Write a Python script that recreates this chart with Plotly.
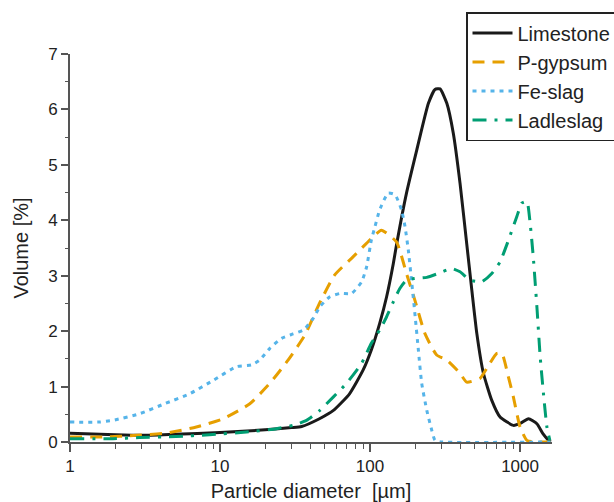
import plotly.graph_objects as go

# Particle size distributions (diameter in µm, volume in %)
limestone_d = [1, 2, 3, 5, 10, 20, 30, 35, 46, 57, 73, 90, 102, 116, 129, 143, 150, 175, 205,
               245, 271, 293, 325, 359, 398, 441, 477, 515, 570, 648, 736, 903, 1010, 1138,
               1295, 1420, 1549, 1600]
limestone_v = [0.16, 0.13, 0.12, 0.14, 0.17, 0.22, 0.26, 0.28, 0.42, 0.57, 0.87, 1.30, 1.66,
               2.14, 2.62, 3.22, 3.55, 4.49, 5.27, 6.11, 6.36, 6.37, 6.11, 5.57, 4.67, 3.58,
               2.74, 1.96, 1.24, 0.75, 0.45, 0.30, 0.34, 0.42, 0.33, 0.15, 0.03, 0.0]

pgypsum_d = [1, 1.66, 2.77, 4.4, 6.95, 10.5, 15.8, 21.5, 28.5, 36.8, 46, 58, 77, 102, 119,
             150, 175, 199, 232, 278, 325, 398, 441, 542, 600, 700, 756, 837, 903, 1000,
             1111, 1300, 1600]
pgypsum_v = [0.09, 0.09, 0.12, 0.16, 0.27, 0.42, 0.69, 1.06, 1.48, 1.93, 2.50, 3.01, 3.34,
             3.67, 3.82, 3.61, 3.04, 2.56, 1.96, 1.57, 1.48, 1.24, 1.08, 1.15, 1.33, 1.60,
             1.60, 1.17, 0.81, 0.27, 0.03, 0.0, 0.0]

feslag_d = [1, 1.57, 1.93, 2.91, 4.27, 6.28, 8.98, 12.9, 16.2, 18.4, 21.5, 25.7, 30.7, 36,
            41.8, 46.3, 54, 63, 75.4, 87.9, 94.9, 102, 108, 116, 132, 147, 162, 171, 180,
            190, 200, 210, 221, 239, 258, 271, 300, 1600]
feslag_v = [0.36, 0.36, 0.39, 0.51, 0.69, 0.87, 1.11, 1.36, 1.39, 1.48, 1.69, 1.87, 1.95,
            2.02, 2.23, 2.44, 2.62, 2.68, 2.68, 2.89, 3.16, 3.64, 3.89, 4.19, 4.49, 4.46,
            4.19, 3.89, 3.46, 2.86, 2.26, 1.66, 1.06, 0.57, 0.21, 0.03, 0.0, 0.0]

ladleslag_d = [1, 1.93, 2.9, 5.1, 8.5, 15, 23.8, 30.7, 37.7, 46.3, 56.8, 69.8, 87.9, 102,
               116, 129, 143, 158, 175, 199, 239, 285, 351, 398, 464, 556, 648, 736, 837,
               952, 1028, 1111, 1167, 1225, 1295, 1362, 1433, 1510, 1580]
ladleslag_v = [0.06, 0.06, 0.08, 0.10, 0.13, 0.18, 0.24, 0.30, 0.39, 0.57, 0.81, 1.06, 1.42,
               1.78, 2.02, 2.26, 2.53, 2.77, 2.92, 2.95, 2.97, 3.04, 3.13, 3.07, 2.92, 2.89,
               3.04, 3.25, 3.64, 4.07, 4.31, 4.34, 3.95, 3.34, 2.44, 1.54, 0.87, 0.27, 0.03]

series = [
    ("Limestone", limestone_d, limestone_v, "#1a1a1a", "solid"),
    ("P-gypsum", pgypsum_d, pgypsum_v, "#E69F00", "12px,8px"),
    ("Fe-slag", feslag_d, feslag_v, "#56B4E9", "4px,5px"),
    ("Ladleslag", ladleslag_d, ladleslag_v, "#009E73", "14px,8px,3px,8px"),
]

FONT = "Liberation Sans, Arial, Helvetica, sans-serif"
AX = "#555555"
TXT = "#222222"

fig = go.Figure()
for name, d, v, color, dash in series:
    fig.add_trace(go.Scatter(
        x=d, y=v, name=name, mode="lines",
        line=dict(color=color, width=3, dash=dash, shape="spline", smoothing=0.5),
    ))

fig.update_layout(
    width=614, height=502,
    margin=dict(l=70, r=62, t=54, b=60, autoexpand=False),
    paper_bgcolor="white", plot_bgcolor="white",
    font=dict(family=FONT, color=TXT, size=16),
    showlegend=True,
    legend=dict(
        x=(466 - 70) / 482, y=(442 - 12) / 388, xanchor="left", yanchor="top",
        bgcolor="white", bordercolor=TXT, borderwidth=1.5,
        font=dict(family=FONT, size=20, color=TXT),
        itemwidth=40, tracegroupgap=0,
    ),
)

fig.update_xaxes(
    type="log", range=[0, 3.213],
    showgrid=False, zeroline=False,
    showline=True, linecolor=AX, linewidth=1.8,
    ticks="outside", ticklen=8, tickwidth=1.5, tickcolor=AX,
    tickvals=[1, 10, 100, 1000], ticktext=["1", "10", "100", "1000"],
    tickfont=dict(size=17, color=TXT),
    minor=dict(ticks="outside", ticklen=5, tickwidth=1.2, tickcolor=AX, dtick="D1",
               showgrid=False),
    title=dict(text="Particle diameter \u00a0[µm]", font=dict(size=20, color=TXT),
               standoff=14),
)

fig.update_yaxes(
    range=[0, 7],
    showgrid=False, zeroline=False,
    showline=True, linecolor=AX, linewidth=1.8,
    ticks="outside", ticklen=7, tickwidth=1.5, tickcolor=AX,
    dtick=1, tickfont=dict(size=17, color=TXT),
    minor=dict(ticks="outside", ticklen=3, tickwidth=1.2, tickcolor=AX, dtick=0.5,
               showgrid=False),
    title=dict(text="Volume [%]", font=dict(size=20, color=TXT), standoff=14),
)

fig.write_html("out.html")
